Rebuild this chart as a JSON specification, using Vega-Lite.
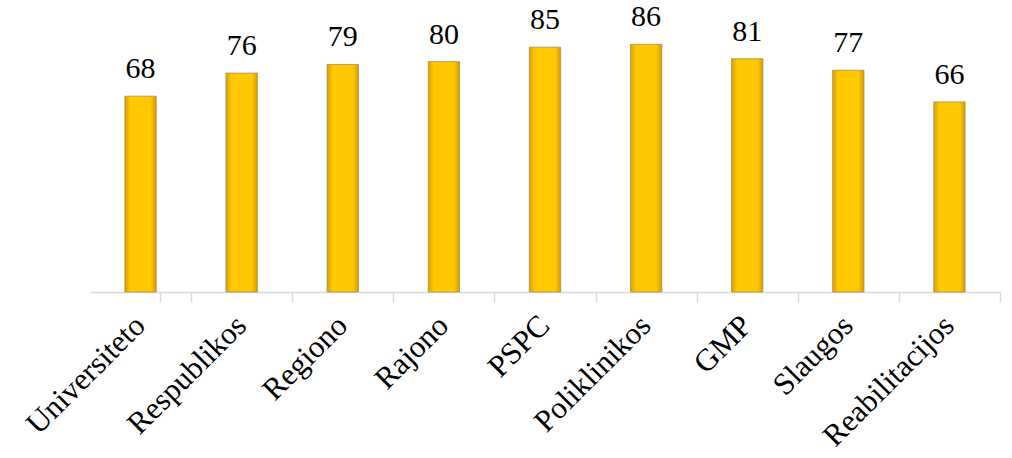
{
  "$schema": "https://vega.github.io/schema/vega-lite/v6.json",
  "autosize": "none",
  "width": 910,
  "height": 288,
  "padding": {"left": 90, "top": 4, "right": 12, "bottom": 166},
  "background": "white",
  "config": {"view": {"stroke": null}, "font": "Liberation Serif", "axis": {"labelFont": "Liberation Serif"}, "text": {"font": "Liberation Serif"}},
  "data": {"values": [
    {"k": "Universiteto", "v": 68},
    {"k": "Respublikos", "v": 76},
    {"k": "Regiono", "v": 79},
    {"k": "Rajono", "v": 80},
    {"k": "PSPC", "v": 85},
    {"k": "Poliklinikos", "v": 86},
    {"k": "GMP", "v": 81},
    {"k": "Slaugos", "v": 77},
    {"k": "Reabilitacijos", "v": 66}
  ]},
  "encoding": {
    "x": {"field": "k", "type": "nominal", "sort": null,
      "scale": {"paddingInner": 0.69, "paddingOuter": 0.345},
      "axis": {"title": null, "labelAngle": -45, "labelFontSize": 31, "labelColor": "#000000", "labelLimit": 400,
        "domainColor": "#D9D9D9", "domainWidth": 1.5, "tickColor": "#D9D9D9", "tickWidth": 1.5, "tickSize": 10,
        "bandPosition": 1, "tickOffset": 34.88, "tickExtra": true, "labelOffset": -46, "labelPadding": 8}},
    "y": {"field": "v", "type": "quantitative", "scale": {"domain": [0, 100]}, "axis": null}
  },
  "layer": [
    {"mark": {"type": "bar", "stroke": "#A89050", "strokeWidth": 0.8,
      "fill": {"gradient": "linear", "x1": 0, "y1": 0, "x2": 1, "y2": 0,
        "stops": [{"offset": 0, "color": "#D9A200"}, {"offset": 0.18, "color": "#FFC800"}, {"offset": 0.82, "color": "#FFC800"}, {"offset": 1, "color": "#D49C00"}]}}},
    {"mark": {"type": "text", "baseline": "alphabetic", "dy": -18, "fontSize": 30, "color": "#000000"},
      "encoding": {"text": {"field": "v", "type": "quantitative"}}}
  ]
}
